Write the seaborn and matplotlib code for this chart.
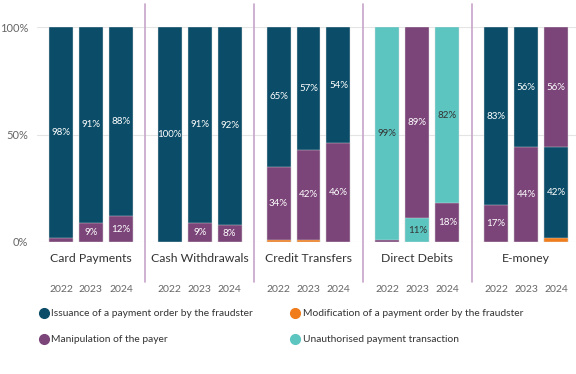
import matplotlib.pyplot as plt
import pandas as pd
import seaborn as sns
from matplotlib.lines import Line2D

# data (shares in %, one value per instrument/year)
instruments = ["Card Payments", "Cash Withdrawals", "Credit Transfers", "Direct Debits", "E-money"]
years = ["2022", "2023", "2024"]
series_names = [
    "Issuance of a payment order by the fraudster",
    "Modification of a payment order by the fraudster",
    "Manipulation of the payer",
    "Unauthorised payment transaction",
]
issuance = [98, 91, 88, 100, 91, 92, 65, 57, 54, 0, 0, 0, 83, 56, 42]
modification = [0, 0, 0, 0, 0, 0, 1, 1, 0, 0, 0, 0, 0, 0, 2]
manipulation = [2, 9, 12, 0, 9, 8, 34, 42, 46, 1, 89, 18, 17, 44, 56]
unauthorised = [0, 0, 0, 0, 0, 0, 0, 0, 0, 99, 11, 82, 0, 0, 0]

colors = {
    series_names[0]: "#0b4d68",
    series_names[1]: "#f07c1b",
    series_names[2]: "#7b4579",
    series_names[3]: "#5cc5c0",
}

rows = []
for i, inst in enumerate(instruments):
    for j, yr in enumerate(years):
        k = i * 3 + j
        for name, vals in zip(series_names, [issuance, modification, manipulation, unauthorised]):
            rows.append({"instrument": inst, "year": yr, "series": name, "value": vals[k]})
df = pd.DataFrame(rows)

# stack segments per bar, smallest at the bottom
df = df[df["value"] > 0].copy()
df = df.sort_values(["instrument", "year", "value"])
df["top"] = df.groupby(["instrument", "year"])["value"].cumsum()
df["rank"] = df.groupby(["instrument", "year"]).cumcount(ascending=False)

sns.set_theme(style="white")
plt.rcParams["font.family"] = ["Lato", "DejaVu Sans"]

fig = plt.figure(figsize=(5.76, 3.74), dpi=100)
W, H = 576, 374
panel_w = 108.8
left0 = 36.5
bottom_px, top_px = 242, 27

for i, inst in enumerate(instruments):
    ax = fig.add_axes([(left0 + i * panel_w) / W, 1 - bottom_px / H, panel_w / W, (bottom_px - top_px) / H])
    sub = df[df["instrument"] == inst]
    for r in sorted(sub["rank"].unique()):
        layer = sub[sub["rank"] == r]
        sns.barplot(
            data=layer, x="year", y="top", hue="series", order=years,
            palette=colors, dodge=False, width=0.8, legend=False, saturation=1,
            edgecolor="#dddddd", linewidth=0.3, ax=ax,
        )
    for _, row in sub.iterrows():
        if row["value"] >= 5:
            xpos = years.index(row["year"])
            ypos = row["top"] - row["value"] / 2
            tc = "#333333" if row["series"] == series_names[3] else "white"
            ax.text(xpos, ypos, f"{row['value']}%", ha="center", va="center",
                    fontsize=7, color=tc)
    ax.set_xlim(-0.815, 2.815)
    ax.set_ylim(0, 100)
    ax.set_yticks([0, 50, 100])
    ax.grid(axis="y", color="#e4e4e4", linewidth=0.8)
    ax.set_axisbelow(True)
    for s in ax.spines.values():
        s.set_visible(False)
    ax.set_xlabel("")
    ax.set_ylabel("")
    ax.tick_params(axis="x", length=0, pad=31, labelsize=7.5, labelcolor="#666666")
    ax.set_xticks(range(3))
    ax.set_xticklabels(years)
    if i == 0:
        ax.set_yticklabels(["0%", "50%", "100%"])
        ax.tick_params(axis="y", length=0, pad=6, labelsize=8, labelcolor="#666666")
    else:
        ax.tick_params(axis="y", length=0, labelleft=False)
    ax.text(0.5, -16 / 215, inst, transform=ax.transAxes, ha="center", va="center",
            fontsize=8.8, color="#333333")
    if i > 0:
        xs = (left0 + i * panel_w) / W
        fig.add_artist(Line2D([xs, xs], [1 - 4 / H, 1 - 282 / H], color="#c7a3c9", linewidth=1.2))

handles = [
    Line2D([], [], marker="o", linestyle="", markersize=7, color=colors[series_names[0]]),
    Line2D([], [], marker="o", linestyle="", markersize=7, color=colors[series_names[2]]),
    Line2D([], [], marker="o", linestyle="", markersize=7, color=colors[series_names[1]]),
    Line2D([], [], marker="o", linestyle="", markersize=7, color=colors[series_names[3]]),
]
labels = [series_names[0], series_names[2], series_names[1], series_names[3]]
leg = fig.legend(handles, labels, ncol=2, loc="upper left",
                 bbox_to_anchor=(35 / W, 1 - 305 / H), frameon=False,
                 fontsize=7.4, handletextpad=0.2, columnspacing=3.6,
                 labelspacing=1.65, handlelength=1.0, borderaxespad=0)
for t in leg.get_texts():
    t.set_color("#333333")

fig.savefig("out.png", dpi=100)
